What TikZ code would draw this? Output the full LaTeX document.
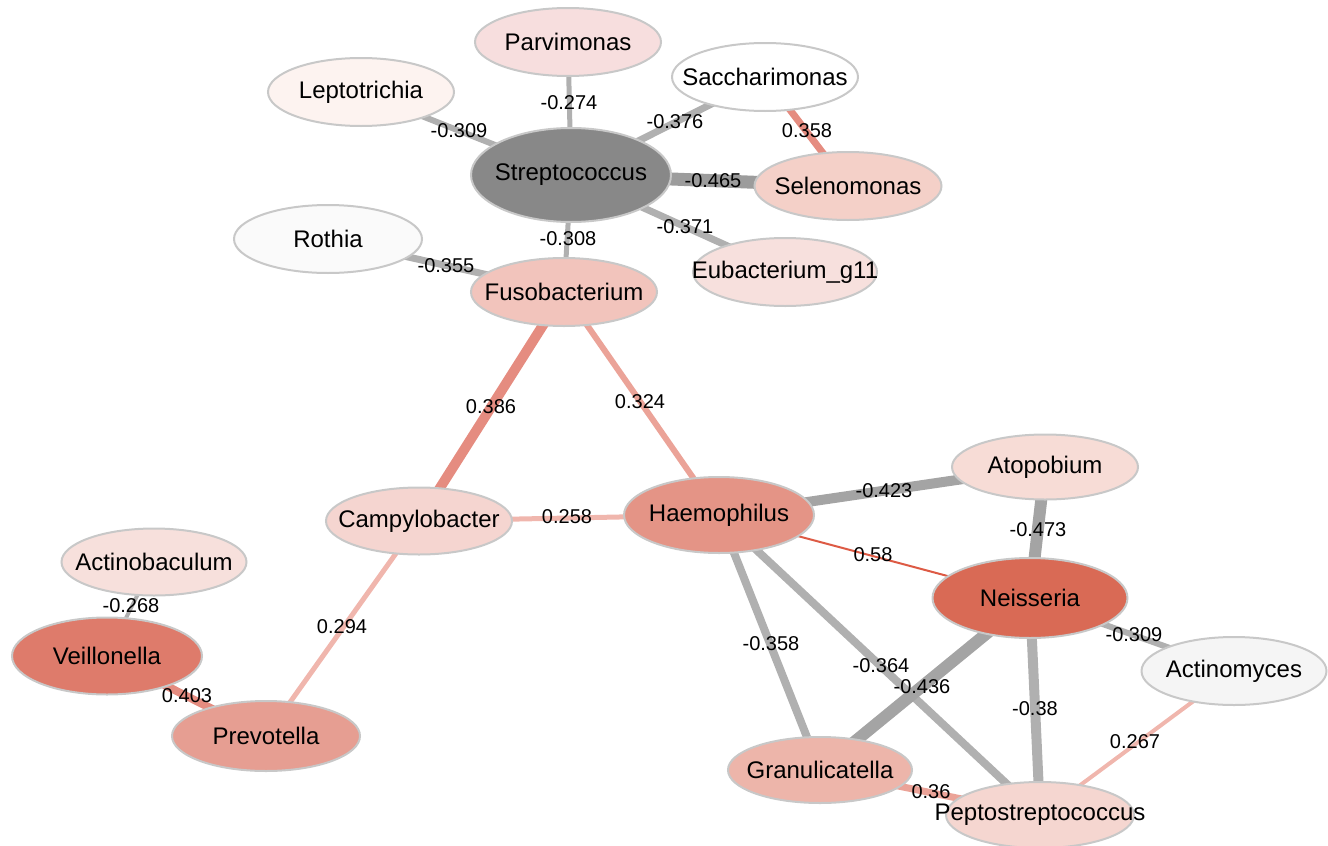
\documentclass[tikz,border=0pt]{standalone}
\usepackage{fontspec}
\setmainfont{Liberation Sans}
\usetikzlibrary{shapes.geometric,backgrounds}
\definecolor{bord}{HTML}{C8C8C8}
\definecolor{cStrep}{HTML}{888888}
\definecolor{cParv}{HTML}{F7DEDE}
\definecolor{cLepto}{HTML}{FDF3F0}
\definecolor{cRoth}{HTML}{FAFAFA}
\definecolor{cSacc}{HTML}{FFFFFF}
\definecolor{cSelen}{HTML}{F4D0C8}
\definecolor{cEub}{HTML}{F7E0DD}
\definecolor{cFuso}{HTML}{F2C4BC}
\definecolor{cCampy}{HTML}{F5D5D0}
\definecolor{cHaem}{HTML}{E49486}
\definecolor{cNeis}{HTML}{D96A55}
\definecolor{cAtop}{HTML}{F7DCD6}
\definecolor{cActm}{HTML}{F5F5F5}
\definecolor{cGran}{HTML}{EDB5AA}
\definecolor{cPept}{HTML}{F5D6D0}
\definecolor{cActb}{HTML}{F7E0DC}
\definecolor{cVeil}{HTML}{DE7B6B}
\definecolor{cPrev}{HTML}{E69E92}
\definecolor{gA}{HTML}{B0B0B0}
\definecolor{gB}{HTML}{A4A4A4}
\definecolor{gC}{HTML}{9C9C9C}
\definecolor{pA}{HTML}{F0B6AD}
\definecolor{pB}{HTML}{EBA398}
\definecolor{pC}{HTML}{E58C80}
\definecolor{pD}{HTML}{DD5A44}
\tikzset{
  bact/.style={ellipse, draw=bord, line width=2pt, minimum width=186pt,
    minimum height=68pt, inner sep=0pt},
  ntxt/.style={font=\fontsize{24}{28}\selectfont, text=black, inner sep=0pt},
  elab/.style={font=\fontsize{20}{24}\selectfont, text=black, inner sep=0pt},
  negedge/.style={draw=gA},
  posedge/.style={draw=pA},
}
\begin{document}
\begin{tikzpicture}[x=1pt,y=-1pt]
\useasboundingbox (0,0) rectangle (1328,846);
% nodes
\node[bact, fill=cParv, label={[ntxt]center:Parvimonas}] (parv) at (568,42) {};
\node[bact, fill=cLepto, label={[ntxt]center:Leptotrichia}] (lept) at (361,92) {};
\node[bact, fill=cStrep, minimum width=200pt, minimum height=94pt, label={[ntxt]center:Streptococcus}] (strep) at (571,175) {};
\node[bact, fill=cRoth, minimum width=188pt, label={[ntxt]center:Rothia}] (roth) at (328,239) {};
\node[bact, fill=cFuso, label={[ntxt]center:Fusobacterium}] (fuso) at (564,292) {};
\node[bact, fill=cSacc, label={[ntxt]center:Saccharimonas}] (sacc) at (765,77) {};
\node[bact, fill=cSelen, minimum width=187pt, label={[ntxt]center:Selenomonas}] (selen) at (848,186) {};
\node[bact, fill=cEub, minimum width=184pt, label={[ntxt]center:Eubacterium\_g11}] (eub) at (785,272) {};
\node[bact, fill=cActb, minimum width=185pt, minimum height=67pt, label={[ntxt]center:Actinobaculum}] (actb) at (154,562) {};
\node[bact, fill=cVeil, minimum width=190pt, minimum height=77pt, label={[ntxt]center:Veillonella}] (veil) at (107,656) {};
\node[bact, fill=cPrev, minimum width=188pt, minimum height=70pt, label={[ntxt]center:Prevotella}] (prev) at (266,736) {};
\node[bact, fill=cCampy, minimum height=67pt, label={[ntxt]center:Campylobacter}] (campy) at (419,521) {};
\node[bact, fill=cHaem, minimum width=190pt, minimum height=76pt, label={[ntxt]center:Haemophilus}] (haem) at (719,515) {};
\node[bact, fill=cAtop, minimum height=65pt, label={[ntxt]center:Atopobium}] (atop) at (1045,467) {};
\node[bact, fill=cNeis, minimum width=195pt, minimum height=80pt, label={[ntxt]center:Neisseria}] (neis) at (1030,598) {};
\node[bact, fill=cActm, minimum width=185pt, label={[ntxt]center:Actinomyces}] (actm) at (1234,671) {};
\node[bact, fill=cGran, minimum width=184pt, minimum height=66pt, label={[ntxt]center:Granulicatella}] (gran) at (820,770) {};
\node[bact, fill=cPept, minimum width=188pt, minimum height=66pt, label={[ntxt]center:Peptostreptococcus}] (pept) at (1040,815) {};
% edges
\begin{pgfonlayer}{background}
\draw[negedge, line width=5pt] (strep.center) -- (parv.center);
\draw[negedge, line width=6pt] (strep.center) -- (lept.center);
\draw[negedge, line width=7pt] (strep.center) -- (sacc.center);
\draw[negedge, draw=gC, line width=13pt] (strep.center) -- (selen.center);
\draw[negedge, line width=7pt] (strep.center) -- (eub.center);
\draw[negedge, line width=5pt] (strep.center) -- (fuso.center);
\draw[negedge, line width=7pt] (roth.center) -- (fuso.center);
\draw[posedge, draw=pC, line width=7pt] (sacc.center) -- (selen.center);
\draw[posedge, draw=pC, line width=10pt] (fuso.center) -- (campy.center);
\draw[posedge, draw=pB, line width=6pt] (fuso.center) -- (haem.center);
\draw[posedge, line width=5pt] (campy.center) -- (haem.center);
\draw[posedge, line width=5pt] (campy.center) -- (prev.center);
\draw[posedge, draw=pC, line width=8pt] (veil.center) -- (prev.center);
\draw[negedge, line width=4pt] (actb.center) -- (veil.center);
\draw[negedge, draw=gB, line width=10pt] (haem.center) -- (atop.center);
\draw[negedge, draw=gB, line width=12pt] (atop.center) -- (neis.center);
\draw[posedge, draw=pD, line width=2pt] (haem.center) -- (neis.center);
\draw[negedge, line width=6pt] (neis.center) -- (actm.center);
\draw[negedge, line width=8pt] (haem.center) -- (gran.center);
\draw[negedge, line width=8pt] (haem.center) -- (pept.center);
\draw[negedge, draw=gB, line width=12pt] (neis.center) -- (gran.center);
\draw[negedge, line width=10pt] (neis.center) -- (pept.center);
\draw[posedge, line width=4pt] (actm.center) -- (pept.center);
\draw[posedge, draw=pB, line width=7pt] (gran.center) -- (pept.center);
\end{pgfonlayer}
% edge labels
\node[elab] (l1) at (569,103) {-0.274};
\node[elab] (l2) at (459,131) {-0.309};
\node[elab] (l3) at (675,122) {-0.376};
\node[elab] (l4) at (807,131) {0.358};
\node[elab] (l5) at (713,181) {-0.465};
\node[elab] (l6) at (685,227) {-0.371};
\node[elab] (l7) at (568,239) {-0.308};
\node[elab] (l8) at (446,266) {-0.355};
\node[elab] (l9) at (491,407) {0.386};
\node[elab] (l10) at (640,402) {0.324};
\node[elab] (l11) at (567,517) {0.258};
\node[elab] (l12) at (884,491) {-0.423};
\node[elab] (l13) at (1038,530) {-0.473};
\node[elab] (l14) at (873,555) {0.58};
\node[elab] (l15) at (771,644) {-0.358};
\node[elab] (l16) at (881,666) {-0.364};
\node[elab] (l17) at (922,687) {-0.436};
\node[elab] (l18) at (1134,635) {-0.309};
\node[elab] (l19) at (1035,709) {-0.38};
\node[elab] (l20) at (1135,742) {0.267};
\node[elab] (l21) at (931,792) {0.36};
\node[elab] (l22) at (131,606) {-0.268};
\node[elab] (l23) at (342,627) {0.294};
\node[elab] (l24) at (187,696) {0.403};
\end{tikzpicture}
\end{document}
